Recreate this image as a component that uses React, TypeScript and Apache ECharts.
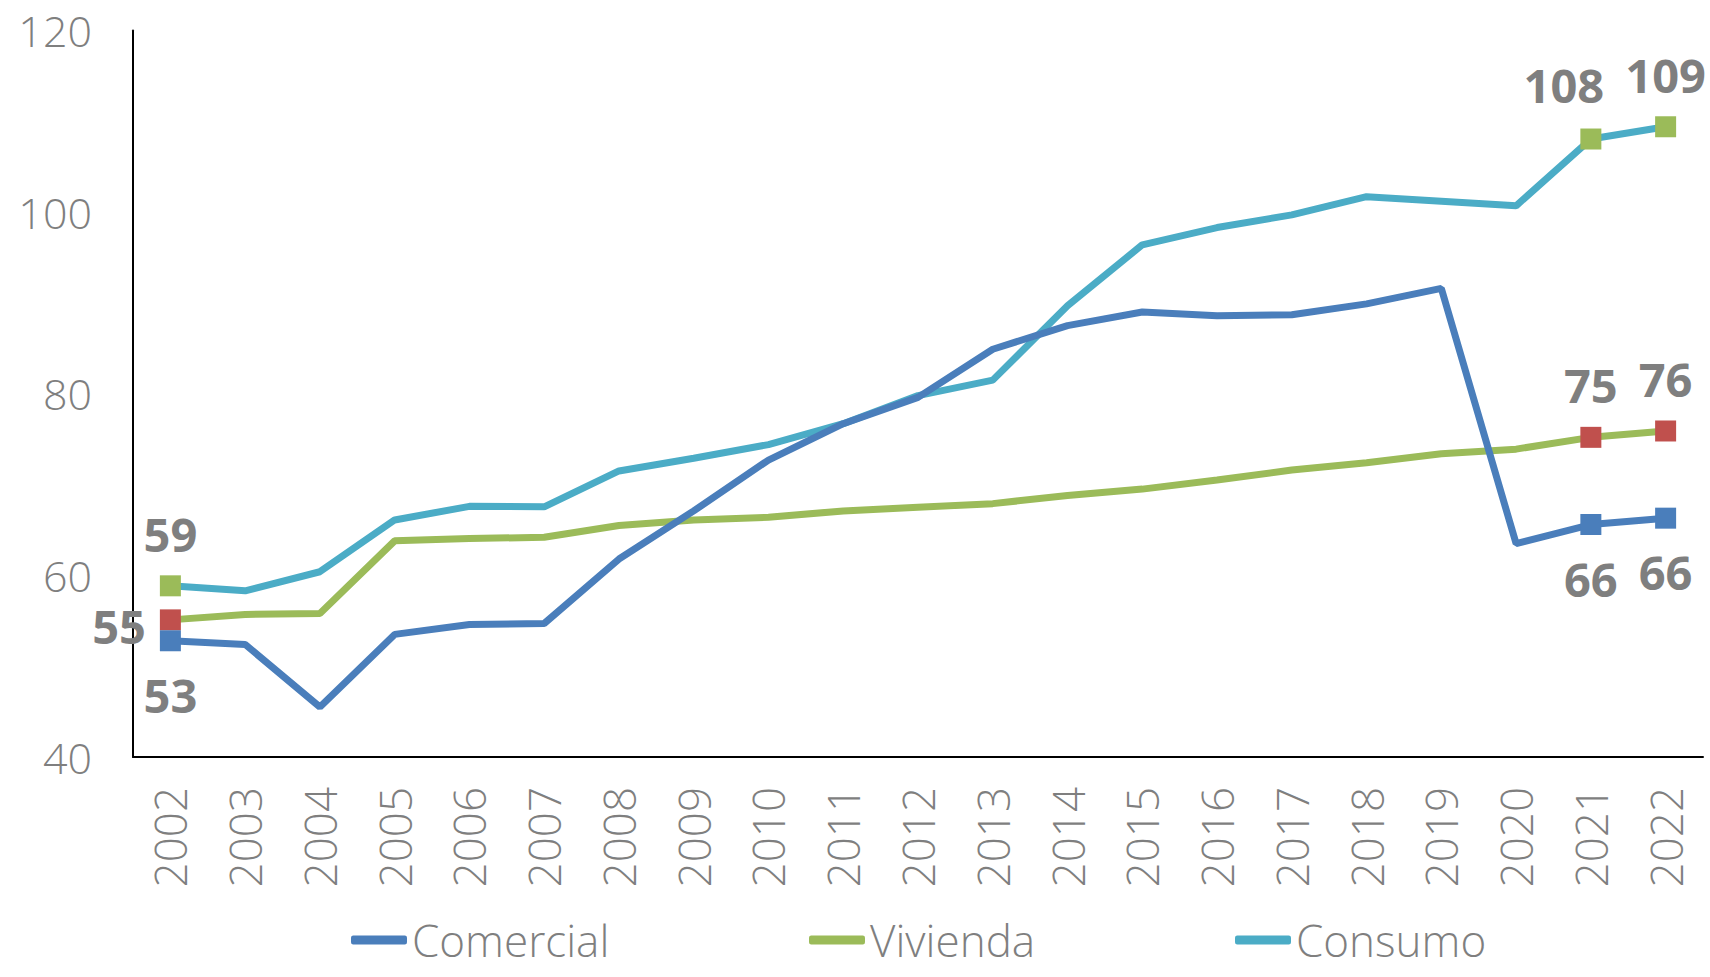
import React, { useEffect, useRef } from "react";
import * as echarts from "echarts";

const years = ["2002","2003","2004","2005","2006","2007","2008","2009","2010","2011","2012","2013","2014","2015","2016","2017","2018","2019","2020","2021","2022"];
const comercial = [52.8, 52.4, 45.5, 53.5, 54.6, 54.7, 61.8, 67.1, 72.7, 76.7, 79.6, 84.9, 87.5, 89.0, 88.6, 88.7, 89.9, 91.6, 63.5, 65.6, 66.3];
const vivienda = [55.1, 55.7, 55.8, 63.8, 64.05, 64.2, 65.5, 66.1, 66.4, 67.1, 67.5, 67.9, 68.8, 69.5, 70.5, 71.6, 72.4, 73.4, 73.9, 75.2, 75.9];
const consumo = [58.85, 58.3, 60.4, 66.1, 67.6, 67.55, 71.5, 72.9, 74.4, 76.7, 79.8, 81.5, 89.7, 96.4, 98.3, 99.7, 101.7, 101.2, 100.7, 108.05, 109.4];
const yTicks = { min: 40, max: 120, interval: 20 };

const FONT = "'Open Sans', 'Noto Sans', sans-serif";
const GRAY = "#7f7f7f";

type LabelSpec = { position: string; distance: number; offset?: number[] };

function buildData(values: number[], markerColor: string, labels: Record<number, LabelSpec>) {
  return values.map((v, i) => {
    const spec = labels[i];
    if (!spec) return { value: v, symbol: "none" };
    return {
      value: v,
      symbol: "rect",
      symbolSize: 21,
      itemStyle: { color: markerColor },
      label: {
        show: true,
        position: spec.position,
        distance: spec.distance,
        offset: spec.offset || [0, 0],
        formatter: (p: any) => String(Math.round(p.value)),
        fontFamily: FONT,
        fontWeight: "bold",
        fontSize: 47,
        color: GRAY,
      },
    };
  });
}

export default function App() {
  const ref = useRef<HTMLDivElement>(null);
  useEffect(() => {
    if (!ref.current) return;
    const chart = echarts.init(ref.current, null, { renderer: "svg" });
    const last = years.length - 1;
    const legendText = { fontFamily: FONT, fontSize: 44, fontWeight: 300, color: GRAY, lineHeight: 44 };
    const legendBase = {
      top: 918,
      padding: 0,
      icon: "roundRect",
      itemWidth: 56,
      itemHeight: 9,
      itemGap: 0,
      textStyle: legendText,
      selectedMode: false,
    };
    chart.setOption({
      animation: false,
      backgroundColor: "#ffffff",
      grid: { left: 133, right: 7, top: 30.5, bottom: 220, containLabel: false },
      legend: [
        { ...legendBase, left: 351, data: ["Comercial"] },
        { ...legendBase, left: 809, data: ["Vivienda"] },
        { ...legendBase, left: 1235, data: ["Consumo"] },
      ],
      xAxis: {
        type: "category",
        data: years,
        boundaryGap: true,
        axisLine: { show: true, lineStyle: { color: "#000", width: 2 } },
        axisTick: { show: false },
        axisLabel: { rotate: 90, margin: 30, fontFamily: FONT, fontSize: 44, fontWeight: 300, color: GRAY, interval: 0 },
        splitLine: { show: false },
      },
      yAxis: {
        type: "value",
        min: yTicks.min,
        max: yTicks.max,
        interval: yTicks.interval,
        axisLine: { show: true, lineStyle: { color: "#000", width: 2 } },
        axisTick: { show: false },
        splitLine: { show: false },
        axisLabel: { margin: 41, fontFamily: FONT, fontSize: 43, fontWeight: 300, color: GRAY },
      },
      series: [
        {
          name: "Comercial",
          type: "line",
          showAllSymbol: true,
          color: "#4a7ebb",
          lineStyle: { width: 7, color: "#4a7ebb" },
          itemStyle: { color: "#4a7ebb" },
          z: 3,
          data: buildData(comercial, "#4a7ebb", {
            0: { position: "bottom", distance: 20 },
            [last - 1]: { position: "bottom", distance: 20 },
            [last]: { position: "bottom", distance: 20 },
          }),
        },
        {
          name: "Vivienda",
          type: "line",
          showAllSymbol: true,
          color: "#9bbb59",
          lineStyle: { width: 7, color: "#9bbb59" },
          itemStyle: { color: "#9bbb59" },
          z: 2,
          data: buildData(vivienda, "#c0504d", {
            0: { position: "left", distance: 14, offset: [0, 6] },
            [last - 1]: { position: "top", distance: 18 },
            [last]: { position: "top", distance: 18 },
          }),
        },
        {
          name: "Consumo",
          type: "line",
          showAllSymbol: true,
          color: "#4bacc6",
          lineStyle: { width: 7, color: "#4bacc6" },
          itemStyle: { color: "#4bacc6" },
          z: 2,
          data: buildData(consumo, "#9bbb59", {
            0: { position: "top", distance: 18 },
            [last - 1]: { position: "top", distance: 20, offset: [-27, 0] },
            [last]: { position: "top", distance: 18 },
          }),
        },
      ],
    });
    return () => chart.dispose();
  }, []);
  return <div ref={ref} style={{ position: "fixed", left: 0, top: 0, width: 1710, height: 977 }} />;
}
